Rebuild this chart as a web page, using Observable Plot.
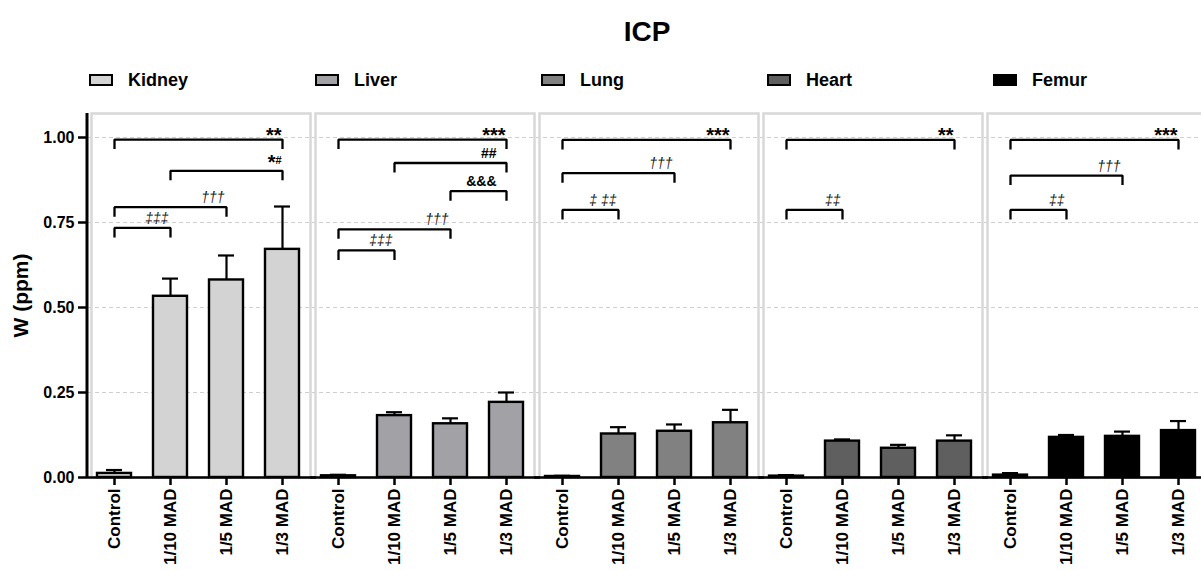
<!DOCTYPE html>
<html>
<head>
<meta charset="utf-8">
<script src="https://cdn.jsdelivr.net/npm/d3@7"></script>
<script src="https://cdn.jsdelivr.net/npm/@observablehq/plot@0.6"></script>
<style>
  html, body { margin: 0; padding: 0; background: #fff; }
  body { width: 1201px; height: 571px; overflow: hidden; position: relative;
         font-family: "Liberation Sans", Arial, Helvetica, sans-serif; color: #000; }
  #title { position: absolute; left: 0; top: 15px; width: 1294px; text-align: center;
           font-weight: bold; font-size: 28px; line-height: 34px; }
  #legend { position: absolute; left: 89px; top: 69px; display: flex; }
  .item { width: 226px; display: flex; align-items: center; height: 22px; }
  .sw { width: 24px; height: 12px; box-sizing: border-box; border: 2px solid #000; margin-right: 15px; }
  .lab { font-weight: bold; font-size: 18px; }
  #chart { position: absolute; left: 0; top: 100px; width: 1210px; }
  #chart svg { overflow: visible; max-width: none !important; }
  #chart [aria-label="y-axis label"] text { font-size: 21px; font-weight: bold; }
</style>
</head>
<body>
<div id="title">ICP</div>
<div id="legend"></div>
<div id="chart"></div>
<script>
// ---------- data ----------
const title = "ICP";
const yLabel = "W (ppm)";
const organs = ["Kidney", "Liver", "Lung", "Heart", "Femur"];
const organFills = ["#d3d3d3", "#a2a2a6", "#818181", "#5f5f5f", "#000000"];
const groups = ["Control", "1/10 MAD", "1/5 MAD", "1/3 MAD"];
const yTicks = [0, 0.25, 0.5, 0.75, 1.0];

const kidneyMean = [0.012, 0.533, 0.581, 0.671];
const kidneyErr  = [0.010, 0.052, 0.072, 0.126];
const liverMean  = [0.005, 0.182, 0.158, 0.221];
const liverErr   = [0.003, 0.010, 0.016, 0.029];
const lungMean   = [0.003, 0.128, 0.136, 0.161];
const lungErr    = [0.002, 0.020, 0.020, 0.038];
const heartMean  = [0.004, 0.107, 0.086, 0.107];
const heartErr   = [0.003, 0.005, 0.010, 0.017];
const femurMean  = [0.007, 0.118, 0.121, 0.138];
const femurErr   = [0.006, 0.007, 0.014, 0.028];

// significance brackets
const annOrgan = ["Kidney","Kidney","Kidney","Kidney",
                  "Liver","Liver","Liver","Liver","Liver",
                  "Lung","Lung","Lung",
                  "Heart","Heart",
                  "Femur","Femur","Femur"];
const annFrom  = ["Control","1/10 MAD","Control","Control",
                  "Control","1/10 MAD","1/5 MAD","Control","Control",
                  "Control","Control","Control",
                  "Control","Control",
                  "Control","Control","Control"];
const annTo    = ["1/3 MAD","1/3 MAD","1/5 MAD","1/10 MAD",
                  "1/3 MAD","1/3 MAD","1/3 MAD","1/5 MAD","1/10 MAD",
                  "1/3 MAD","1/5 MAD","1/10 MAD",
                  "1/3 MAD","1/10 MAD",
                  "1/3 MAD","1/5 MAD","1/10 MAD"];
const annY     = [0.994, 0.902, 0.795, 0.734,
                  0.994, 0.925, 0.842, 0.730, 0.668,
                  0.993, 0.895, 0.787,
                  0.993, 0.787,
                  0.993, 0.888, 0.787];
const annLabel = ["**", "*", "†††", "‡‡‡",
                  "***", "##", "&&&", "†††", "‡‡‡",
                  "***", "†††", "‡ ‡‡",
                  "**", "‡‡",
                  "***", "†††", "‡‡"];
const annSub   = ["", "#", "", "",
                  "", "", "", "", "",
                  "", "", "",
                  "", "",
                  "", "", ""];

// ---------- build tables ----------
const means = {Kidney: kidneyMean, Liver: liverMean, Lung: lungMean, Heart: heartMean, Femur: femurMean};
const errs  = {Kidney: kidneyErr,  Liver: liverErr,  Lung: lungErr,  Heart: heartErr,  Femur: femurErr};
const rows = organs.flatMap(o => groups.map((g, j) => ({organ: o, group: g, mean: means[o][j], err: errs[o][j]})));

const ann = annOrgan.map((o, k) => ({k, organ: o, from: annFrom[k], to: annTo[k], y: annY[k], label: annLabel[k], sub: annSub[k]}));
const legDrop = 0.028;
const bracketPts = ann.flatMap(a => [
  {k: a.k, organ: a.organ, x: a.from, y: a.y - legDrop},
  {k: a.k, organ: a.organ, x: a.from, y: a.y},
  {k: a.k, organ: a.organ, x: a.to,   y: a.y},
  {k: a.k, organ: a.organ, x: a.to,   y: a.y - legDrop}
]);
const isDagger = a => /[†‡]/.test(a.label);
const isStar = a => a.label.startsWith("*");
const starsPlain = ann.filter(a => isStar(a) && !a.sub);
const starsSub = ann.filter(a => isStar(a) && a.sub);
const syms = ann.filter(a => !isStar(a) && !isDagger(a));
const daggers = ann.filter(isDagger);
const yMax = 1.0706;

// ---------- title & legend ----------
document.getElementById("title").textContent = title;
const legend = document.getElementById("legend");
organs.forEach((o, i) => {
  const it = document.createElement("div"); it.className = "item";
  const sw = document.createElement("div"); sw.className = "sw"; sw.style.background = organFills[i];
  const lb = document.createElement("span"); lb.className = "lab"; lb.textContent = o;
  it.appendChild(sw); it.appendChild(lb); legend.appendChild(it);
});

// ---------- chart ----------
const chart = Plot.plot({
  width: 1210,
  height: 471,
  marginLeft: 90,
  marginRight: 3.4,
  marginTop: 13,
  marginBottom: 94,
  style: {fontFamily: "Liberation Sans, Arial, sans-serif", fontSize: "16px", color: "black", background: "transparent", overflow: "visible", maxWidth: "none"},
  fx: {domain: organs, paddingInner: 0.024, paddingOuter: 0, axis: null, label: null},
  x: {domain: groups, paddingInner: 0.396, paddingOuter: 0, insetLeft: 5.5, insetRight: 10.5, label: null},
  y: {domain: [0, yMax], label: null},
  color: {domain: organs, range: organFills},
  marks: [
    Plot.ruleY(yTicks.filter(d => d > 0), {stroke: "#cfcfcf", strokeWidth: 1, strokeDasharray: "4,3", insetLeft: -3, insetRight: -3}),
    Plot.frame({stroke: "#d8d8d8", strokeWidth: 2.5}),
    Plot.ruleX(rows, {fx: "organ", x: "group", y1: "mean", y2: d => d.mean + d.err, stroke: "black", strokeWidth: 2.2}),
    Plot.tickY(rows, {fx: "organ", x: "group", y: d => d.mean + d.err, stroke: "black", strokeWidth: 2.2, insetLeft: 9, insetRight: 9}),
    Plot.barY(rows, {fx: "organ", x: "group", y: "mean", fill: "organ", stroke: "black", strokeWidth: 2.4}),
    Plot.line(bracketPts, {fx: "organ", x: "x", y: "y", z: "k", stroke: "black", strokeWidth: 2.3, strokeLinejoin: "miter", strokeLinecap: "butt"}),
    Plot.text(starsPlain, {fx: "organ", x: "to", y: "y", text: "label", textAnchor: "end", lineAnchor: "bottom", dx: -1, dy: 2, fontSize: 20, fontWeight: "bold"}),
    Plot.text(starsSub, {fx: "organ", x: "to", y: "y", text: "label", textAnchor: "end", lineAnchor: "bottom", dx: -7, dy: -2, fontSize: 20, fontWeight: "bold"}),
    Plot.text(starsSub, {fx: "organ", x: "to", y: "y", text: "sub", textAnchor: "end", lineAnchor: "bottom", dx: -1, dy: -7, fontSize: 11, fontWeight: "bold"}),
    Plot.text(syms, {fx: "organ", x: "to", y: "y", text: "label", textAnchor: "end", lineAnchor: "bottom", dx: -10, dy: -5, fontSize: 14, fontWeight: "bold"}),
    Plot.text(daggers, {fx: "organ", x: "to", y: "y", text: "label", textAnchor: "end", lineAnchor: "bottom", dx: -2, dy: -5, fontSize: 14, fontStyle: "italic", fill: "#1a1a1a"}),
    Plot.ruleY([0], {stroke: "black", strokeWidth: 2.5, insetLeft: -5, insetRight: -6}),
    // y-axis spine on the first facet, just left of the panel
    Plot.ruleX([{organ: organs[0], group: groups[0]}], {fx: "organ", x: "group", y1: 0, y2: yMax, dx: -27.5, stroke: "black", strokeWidth: 3}),
    Plot.axisX({anchor: "bottom", tickSize: 8, tickPadding: 3, tickRotate: -90, fontSize: 17, fontWeight: "bold", strokeWidth: 2.5, label: null}),
    Plot.axisY({anchor: "left", ticks: yTicks, tickFormat: d3.format(".2f"), tickSize: 8, tickPadding: 4, fontSize: 16, fontWeight: "bold", strokeWidth: 2.5, dx: -5,
                label: yLabel, labelAnchor: "center", labelOffset: 78, labelArrow: "none"})
  ]
});
document.getElementById("chart").appendChild(chart);
</script>
</body>
</html>
